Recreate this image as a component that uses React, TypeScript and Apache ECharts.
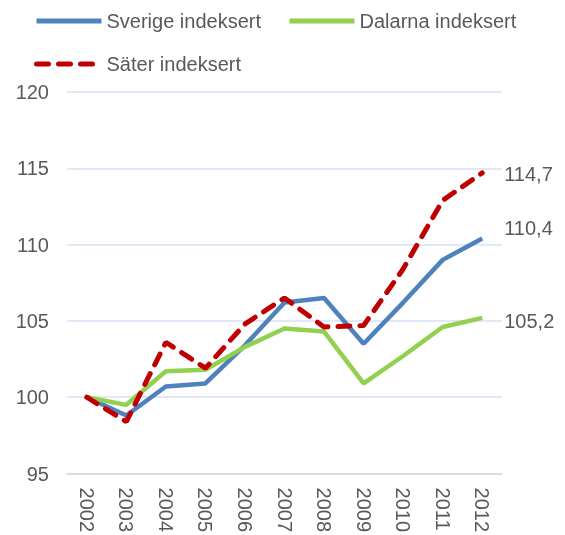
import React, { useEffect, useRef } from "react";
import * as echarts from "echarts";

const years = ["2002", "2003", "2004", "2005", "2006", "2007", "2008", "2009", "2010", "2011", "2012"];
const sverige = [100, 98.8, 100.7, 100.9, 103.4, 106.2, 106.5, 103.5, 106.2, 109.0, 110.4];
const dalarna = [100, 99.5, 101.7, 101.8, 103.3, 104.5, 104.3, 100.9, 102.7, 104.6, 105.2];
const sater = [100, 98.4, 103.6, 101.9, 104.8, 106.5, 104.6, 104.7, 108.4, 112.9, 114.7];
const seriesNames = ["Sverige indeksert", "Dalarna indeksert", "Säter indeksert"];
const colors = ["#4f81bd", "#92d050", "#c00000"];

const FONT = "Liberation Sans, Arial, sans-serif";
const TEXT = "#595959";
const FS = 20;

export default function App() {
  const ref = useRef<HTMLDivElement>(null);
  useEffect(() => {
    if (!ref.current) return;
    const chart = echarts.init(ref.current, null, { renderer: "svg" });
    const fmt = (p: any) => {
      const v = Array.isArray(p.value) ? p.value[1] : p.value;
      return Number(v).toFixed(1).replace(".", ",");
    };
    const endLabel = (offsetY: number) => ({
      show: true,
      formatter: fmt,
      distance: 22,
      offset: [0, offsetY],
      fontFamily: FONT,
      fontSize: FS,
      color: TEXT,
    });
    const legendCommon = {
      itemWidth: 65,
      itemHeight: 14,
      itemGap: 26,
      left: 29,
      textStyle: { fontFamily: FONT, fontSize: FS, color: TEXT },
      lineStyle: { width: 5 },
      itemStyle: { opacity: 0 },
    };
    chart.setOption({
      animation: false,
      textStyle: { fontFamily: FONT },
      legend: [
        { ...legendCommon, top: 6, data: [seriesNames[0], seriesNames[1]] },
        { ...legendCommon, top: 49, data: [seriesNames[2]] },
      ],
      grid: { left: 67, right: 63, top: 92, bottom: 59, containLabel: false },
      xAxis: {
        type: "category",
        data: years,
        boundaryGap: true,
        axisLine: { lineStyle: { color: "#d9d9d9", width: 1.5 } },
        axisTick: { show: false },
        axisLabel: {
          rotate: -90,
          margin: 14,
          fontFamily: FONT,
          fontSize: FS,
          color: TEXT,
          interval: 0,
        },
      },
      yAxis: {
        type: "value",
        min: 95,
        max: 120,
        interval: 5,
        axisLine: { show: false },
        axisTick: { show: false },
        axisLabel: { margin: 18, fontFamily: FONT, fontSize: FS, color: TEXT },
        splitLine: { lineStyle: { color: "#d9e1f2", width: 1.5 } },
      },
      series: [
        {
          name: seriesNames[0],
          type: "line",
          data: sverige,
          symbol: "none",
          lineStyle: { color: colors[0], width: 4.5 },
          itemStyle: { color: colors[0] },
          endLabel: endLabel(-10),
        },
        {
          name: seriesNames[1],
          type: "line",
          data: dalarna,
          symbol: "none",
          lineStyle: { color: colors[1], width: 4.5 },
          itemStyle: { color: colors[1] },
          endLabel: endLabel(3),
        },
        {
          name: seriesNames[2],
          type: "line",
          data: sater,
          symbol: "none",
          lineStyle: { color: colors[2], width: 5, type: [12, 10], cap: "round" },
          itemStyle: { color: colors[2] },
          endLabel: endLabel(1),
        },
      ],
    });
    return () => chart.dispose();
  }, []);
  return (
    <div
      ref={ref}
      style={{ position: "fixed", left: 0, top: 0, width: 565, height: 535 }}
    />
  );
}
